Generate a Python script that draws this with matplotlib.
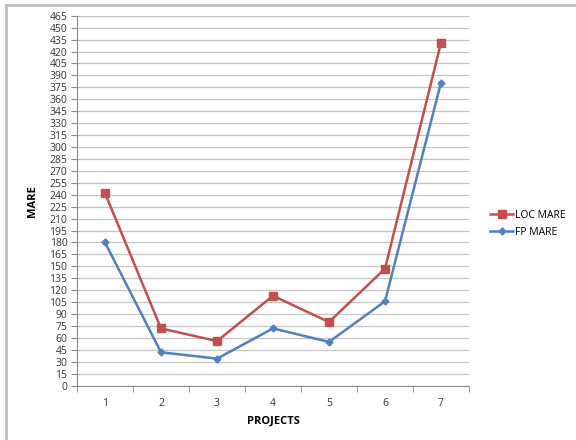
import matplotlib
matplotlib.use("Agg")
import matplotlib.pyplot as plt
from matplotlib.lines import Line2D

projects = [1, 2, 3, 4, 5, 6, 7]
loc_mare = [242, 72, 56, 113, 80, 147, 431]
fp_mare = [180, 42, 34, 72, 55, 106, 381]
y_ticks = list(range(0, 466, 15))

RED = "#C0504D"
BLUE = "#4F81BD"
GRID = "#c4c4c4"

plt.rcParams["font.family"] = ["Open Sans", "DejaVu Sans"]

fig = plt.figure(figsize=(5.76, 4.4), dpi=100)
fig.patch.set_facecolor("white")

# outer chart frame (only top and left edges visible)
fig.add_artist(Line2D([6 / 576, 6 / 576], [0, 1 - 5 / 440], transform=fig.transFigure,
                      color="#bdbdbd", lw=2))
fig.add_artist(Line2D([6 / 576, 1], [1 - 5 / 440, 1 - 5 / 440], transform=fig.transFigure,
                      color="#bdbdbd", lw=2))

ax = fig.add_axes([77 / 576, 1 - 385.7 / 440, (469 - 77) / 576, (385.7 - 15.7) / 440])

ax.plot(projects, loc_mare, color=RED, lw=1.8, marker="s", ms=6,
        markeredgecolor=RED, label="LOC MARE", zorder=3)
ax.plot(projects, fp_mare, color=BLUE, lw=1.8, marker="D", ms=3.5,
        markeredgecolor=BLUE, label="FP MARE", zorder=3)

ax.set_xlim(0.5, 7.5)
ax.set_ylim(0, 465)
ax.set_yticks(y_ticks)
ax.set_xticks(projects)
ax.set_xticks([p + 0.5 for p in [0] + projects], minor=True)
ax.tick_params(axis="x", which="major", length=0, pad=9, labelsize=7.5, colors="#333333")
ax.tick_params(axis="x", which="minor", length=4, color="#888888", direction="out")
ax.tick_params(axis="y", length=4, color="#888888", pad=3, labelsize=7.5,
               labelcolor="#333333")

ax.yaxis.grid(True, color=GRID, lw=0.9)
ax.set_axisbelow(True)
for side in ["top", "right"]:
    ax.spines[side].set_visible(False)
ax.spines["left"].set_color("#888888")
ax.spines["bottom"].set_color("#888888")
ax.spines["left"].set_linewidth(0.8)
ax.spines["bottom"].set_linewidth(0.8)

ax.set_xlabel("PROJECTS", fontsize=8, fontweight="bold", labelpad=5)
ax.set_ylabel("MARE", fontsize=8, fontweight="bold", labelpad=8)

ax.legend(loc="center left", bbox_to_anchor=(1.03, 0.438), frameon=False,
          fontsize=7.5, handlelength=2.2, handletextpad=0.2, labelspacing=0.6)

fig.savefig("out.png", dpi=100, facecolor="white")
